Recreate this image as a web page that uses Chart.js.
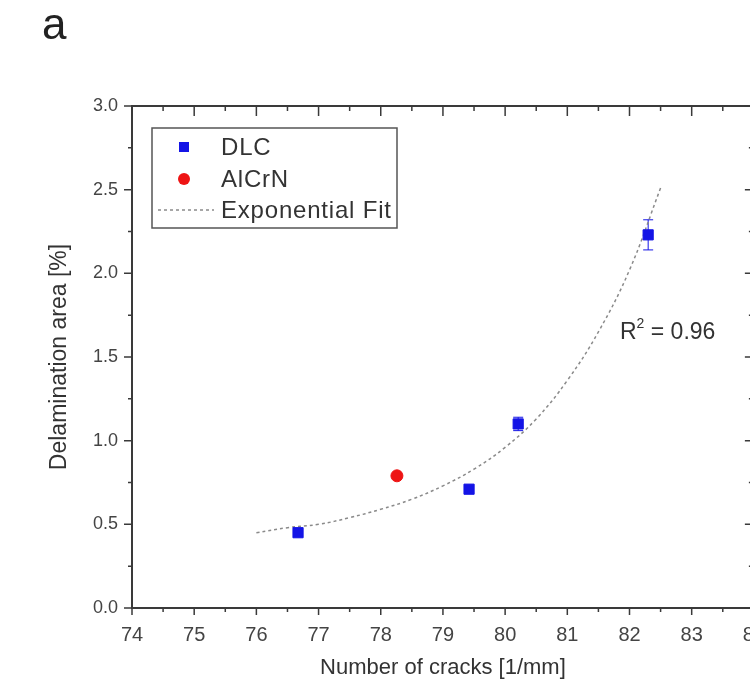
<!DOCTYPE html>
<html>
<head>
<meta charset="utf-8">
<script src="https://cdn.jsdelivr.net/npm/chart.js@4.4.0/dist/chart.umd.min.js"></script>
<style>
  html, body { margin: 0; padding: 0; background: #fff; overflow: hidden; }
  #wrap { position: relative; width: 780px; height: 691px; }
</style>
</head>
<body>
<div id="wrap"><canvas id="crackChart" width="780" height="691"></canvas></div>
<script>
// values
const dlcCracks = [76.67, 79.42, 80.21, 82.30];
const dlcArea = [0.45, 0.71, 1.10, 2.23];
const dlcErr = [0.02, 0.02, 0.04, 0.09];
const alcrnCracks = [78.26];
const alcrnArea = [0.79];
const fitCracks = [76.0, 76.5, 77.0, 77.5, 78.0, 78.5, 79.0, 79.5, 80.0, 80.5, 81.0, 81.5, 82.0, 82.5];
const fitArea = [0.45, 0.48, 0.50, 0.54, 0.59, 0.65, 0.73, 0.83, 0.96, 1.13, 1.36, 1.65, 2.02, 2.51];
const xTicks = [74, 75, 76, 77, 78, 79, 80, 81, 82, 83, 84];
const yTicks = [0.0, 0.5, 1.0, 1.5, 2.0, 2.5, 3.0];
const fitNote = '0.96';

const FONT = "'Liberation Sans', Arial, sans-serif";
const BLUE = '#1414e6';
const RED = '#ee1414';
const INK = '#333';

const toPts = (xs, ys) => xs.map((v, i) => ({ x: v, y: ys[i] }));

// axis frame, minor/major ticks, error bars, legend and notes
const extras = {
  id: 'extras',
  beforeDatasetsDraw(chart) {
    const { ctx, chartArea: a, scales: { x, y } } = chart;
    ctx.save();
    ctx.strokeStyle = '#3a3a3a';
    ctx.lineWidth = 2;
    ctx.strokeRect(a.left, a.top, a.right - a.left, a.bottom - a.top);

    ctx.lineWidth = 1.5;
    ctx.beginPath();
    for (let i = 0; i <= (xTicks.length - 1) * 2; i++) {
      const v = xTicks[0] + i * 0.5;
      const px = x.getPixelForValue(v);
      const major = i % 2 === 0;
      ctx.moveTo(px, a.bottom); ctx.lineTo(px, a.bottom + (major ? 7 : 4));
      ctx.moveTo(px, a.top); ctx.lineTo(px, a.top + (major ? 10 : 5));
    }
    for (let i = 0; i <= (yTicks.length - 1) * 2; i++) {
      const v = yTicks[0] + i * 0.25;
      const py = y.getPixelForValue(v);
      const major = i % 2 === 0;
      ctx.moveTo(a.left, py); ctx.lineTo(a.left - (major ? 8 : 4), py);
      ctx.moveTo(a.right, py); ctx.lineTo(a.right - (major ? 9 : 5), py);
    }
    ctx.stroke();

    // error bars on DLC points
    ctx.strokeStyle = BLUE;
    ctx.lineWidth = 1;
    ctx.beginPath();
    dlcCracks.forEach((c, i) => {
      const px = x.getPixelForValue(c);
      const hi = y.getPixelForValue(dlcArea[i] + dlcErr[i]);
      const lo = y.getPixelForValue(dlcArea[i] - dlcErr[i]);
      ctx.moveTo(px, hi); ctx.lineTo(px, lo);
      ctx.moveTo(px - 5, hi); ctx.lineTo(px + 5, hi);
      ctx.moveTo(px - 5, lo); ctx.lineTo(px + 5, lo);
    });
    ctx.stroke();
    ctx.restore();
  },
  afterDraw(chart) {
    const { ctx } = chart;
    ctx.save();
    // panel letter
    ctx.fillStyle = '#222';
    ctx.font = `44px ${FONT}`;
    ctx.textBaseline = 'alphabetic';
    ctx.fillText('a', 42, 39);

    // legend box
    ctx.fillStyle = '#fff';
    ctx.fillRect(152, 128, 245, 100);
    ctx.strokeStyle = '#555';
    ctx.lineWidth = 1.5;
    ctx.strokeRect(152, 128, 245, 100);

    const ds = chart.data.datasets;
    ctx.font = `24px ${FONT}`;
    ctx.letterSpacing = '0.8px';
    ctx.fillStyle = INK;
    ctx.textBaseline = 'middle';
    ctx.fillText(ds[0].label, 221, 148);
    ctx.fillText(ds[1].label, 221, 180);
    ctx.fillText(ds[2].label, 221, 211);
    ctx.letterSpacing = '0px';

    ctx.fillStyle = BLUE;
    ctx.fillRect(179, 142, 10, 10);
    ctx.fillStyle = RED;
    ctx.beginPath();
    ctx.arc(184, 179, 6, 0, Math.PI * 2);
    ctx.fill();
    ctx.strokeStyle = '#8a8a8a';
    ctx.setLineDash([3, 3]);
    ctx.lineWidth = 1.5;
    ctx.beginPath();
    ctx.moveTo(158, 210); ctx.lineTo(214, 210);
    ctx.stroke();
    ctx.setLineDash([]);

    // R^2 note
    ctx.fillStyle = INK;
    ctx.font = `23px ${FONT}`;
    ctx.textBaseline = 'alphabetic';
    ctx.fillText('R', 620, 339);
    const rw = ctx.measureText('R').width;
    ctx.font = `14px ${FONT}`;
    ctx.fillText('2', 620 + rw, 328);
    const sw = ctx.measureText('2').width;
    ctx.font = `23px ${FONT}`;
    ctx.fillText(' = ' + fitNote, 620 + rw + sw, 339);
    ctx.restore();
  }
};

new Chart(document.getElementById('crackChart'), {
  type: 'scatter',
  data: {
    datasets: [
      {
        label: 'DLC',
        data: toPts(dlcCracks, dlcArea),
        pointStyle: 'rect',
        pointRadius: 7.2,
        borderWidth: 1,
        backgroundColor: BLUE,
        borderColor: BLUE,
        order: 1
      },
      {
        label: 'AlCrN',
        data: toPts(alcrnCracks, alcrnArea),
        pointStyle: 'circle',
        pointRadius: 6,
        borderWidth: 1,
        backgroundColor: RED,
        borderColor: RED,
        order: 2
      },
      {
        label: 'Exponential Fit',
        type: 'line',
        data: toPts(fitCracks, fitArea),
        showLine: true,
        borderColor: '#8a8a8a',
        borderDash: [3, 3],
        borderWidth: 1.5,
        pointRadius: 0,
        tension: 0.4,
        fill: false,
        order: 3
      }
    ]
  },
  options: {
    responsive: false,
    animation: false,
    devicePixelRatio: 1,
    layout: { padding: { top: 106, right: 24, left: 0, bottom: 0 } },
    plugins: { legend: { display: false }, tooltip: { enabled: false } },
    scales: {
      x: {
        type: 'linear',
        min: xTicks[0],
        max: xTicks[xTicks.length - 1],
        afterBuildTicks: s => { s.ticks = xTicks.map(v => ({ value: v })); },
        afterFit: s => { s.height = 83; },
        ticks: {
          font: { family: FONT, size: 20 },
          color: '#444',
          padding: 15,
          maxRotation: 0,
          callback: v => String(v)
        },
        grid: { display: false, drawTicks: false },
        border: { display: false },
        title: {
          display: true,
          text: 'Number of cracks [1/mm]',
          font: { family: FONT, size: 22 },
          color: INK,
          padding: { top: 0, bottom: 10 }
        }
      },
      y: {
        type: 'linear',
        min: yTicks[0],
        max: yTicks[yTicks.length - 1],
        afterBuildTicks: s => { s.ticks = yTicks.map(v => ({ value: v })); },
        afterFit: s => { s.width = 132; },
        ticks: {
          font: { family: FONT, size: 18 },
          color: '#444',
          padding: 14,
          callback: v => Number(v).toFixed(1)
        },
        grid: { display: false, drawTicks: false },
        border: { display: false },
        title: {
          display: true,
          text: 'Delamination area [%]',
          font: { family: FONT, size: 23 },
          color: INK,
          padding: { top: 46, bottom: 0 }
        }
      }
    }
  },
  plugins: [extras]
});
</script>
</body>
</html>
